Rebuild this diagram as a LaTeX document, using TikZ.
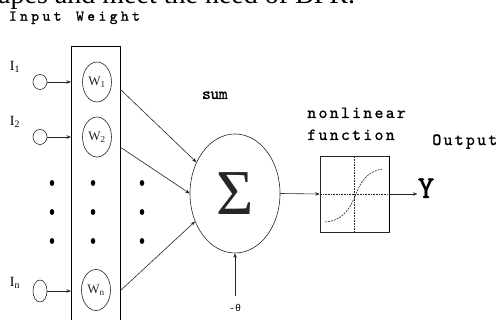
\documentclass[tikz,border=0pt]{standalone}
\usepackage{fontspec}
\setmainfont{Liberation Serif}
\newfontfamily\monof{lmmono10-regular}[Extension=.otf, FakeBold=1]
\newfontfamily\thf{Liberation Mono}
\newlength\chw
\setlength\chw{11.2pt}
\makeatletter
\newcommand\mspc[1]{\@tfor\mch:=#1\do{\makebox[\chw][c]{\mch}}}
\makeatother
\usetikzlibrary{shapes.geometric,arrows.meta}
\begin{document}
\begin{tikzpicture}[x=1pt,y=-1pt,
  ln/.style={line width=0.6pt, black!85},
  arr/.style={ln, -{Stealth[length=4.5pt,width=3.5pt]}},
  inc/.style={ellipse, draw, ln, minimum width=14pt, minimum height=15pt, inner sep=0},
  wel/.style={ellipse, draw, ln, minimum width=29pt, minimum height=40pt, inner sep=0, font=\fontsize{13}{14}\selectfont},
  dotn/.style={ellipse, fill=black, minimum width=4.5pt, minimum height=6pt, inner sep=0},
  lab/.style={font=\monof\fontsize{17}{18}\selectfont, inner sep=0, anchor=base west},
  ilab/.style={font=\fontsize{14}{16}\selectfont, inner sep=0},
]
\useasboundingbox (0,0) rectangle (498,320);
\clip (0,0) rectangle (498,320);

\node[anchor=base west, inner sep=0, font=\fontsize{28}{30}\selectfont] (cut) at (-2,4) {apes and meet the need of BPR.};

\node[lab, font=\monof\fontsize{15}{16}\selectfont] (iw) at (7,20.7) {\mspc{Input~Weight}};
\node[draw, line width=0.8pt, anchor=north west, minimum width=49pt, minimum height=300pt, inner sep=0] (wbox) at (71,46) {};

% inputs
\node[inc] (i1) at (40,82) {};
\node[inc] (i2) at (40,137) {};
\node[inc, minimum height=22pt] (in) at (40,291) {};
\node[ilab] (l1) at (15,67) {I\textsubscript{1}};
\node[ilab] (l2) at (15,122) {I\textsubscript{2}};
\node[ilab] (ln) at (15,283) {I\textsubscript{n}};
\draw[arr] (i1.east) -- (i1.east -| wbox.west);
\draw[arr] (i2.east) -- (i2.east -| wbox.west);
\draw[arr] (in.east) -- (in.east -| wbox.west);

% weights
\node[wel] (w1) at (97,82) {W\textsubscript{1}};
\node[wel] (w2) at (97,137) {W\textsubscript{2}};
\node[wel, minimum height=41pt] (wn) at (96,290) {W\textsubscript{n}};

% dots
\foreach \x/\c in {52/a,93/b,142/c}{
  \foreach \y/\r in {183/1,212/2,241/3}{
    \node[dotn] (d\c\r) at (\x,\y) {};
  }
}

% sum
\node[ellipse, draw, ln, minimum width=90pt, minimum height=119pt, inner sep=0, font=\fontsize{64}{64}\selectfont] (sum) at (235,193.5) {Σ};
\node[lab] (sl) at (202,99) {\setlength\chw{8.4pt}\mspc{sum}};

\coordinate (o1) at (120,89);
\coordinate (o2) at (120,147);
\coordinate (o3) at (120,291);
\draw[arr] (o1) -- (sum.141);
\draw[arr] (o2) -- (sum.west);
\draw[arr] (o3) -- (sum.215);

% bias
\coordinate (b) at (235,296);
\draw[arr] (b) -- (sum.south);
\node[font=\thf\fontsize{10}{11}\selectfont, inner sep=0, anchor=base] (th) at (235,312) {-θ};

% nonlinear function
\node[draw, ln, minimum width=69pt, minimum height=76pt, inner sep=0] (nl) at (354.5,194) {};
\draw[arr] (sum.east) -- (nl.west);
\draw[ln, densely dotted] (nl.north) -- (nl.south);
\draw[ln, densely dotted] (nl.west) -- (nl.east);
\draw[line width=1pt] (nl.north east) -- (nl.south east);
\draw[ln, dash pattern=on 2pt off 1pt] (325,222) .. controls (345,221) and (352,204) .. (356,194) .. controls (360,184) and (366,171) .. (383,169);
\node[lab] (nlt) at (306,118) {\mspc{nonlinear}};
\node[lab] (fn) at (306,140) {\mspc{function}};
\node[lab] (out) at (431,145) {\mspc{Output}};

\node[font=\monof\fontsize{32}{32}\selectfont, inner sep=0, anchor=base] (Y) at (426,198) {Y};
\draw[arr] (nl.east) -- (nl.east -| Y.west);
\end{tikzpicture}
\end{document}
